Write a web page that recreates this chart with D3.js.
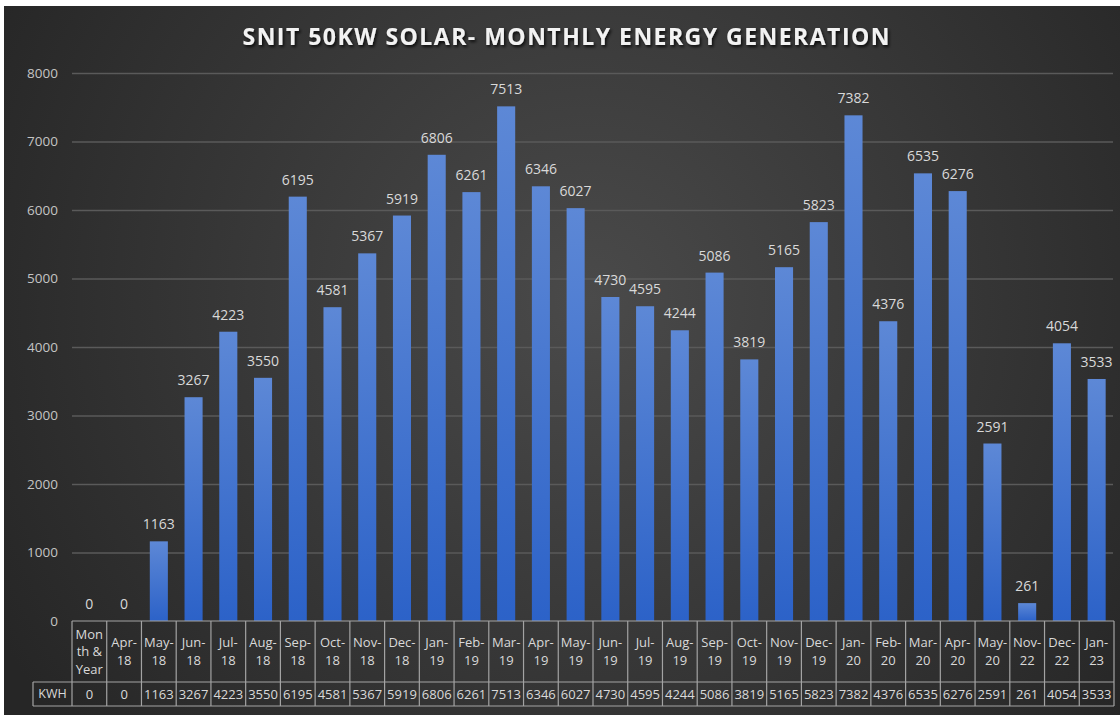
<!DOCTYPE html>
<html>
<head>
<meta charset="utf-8">
<script src="https://cdn.jsdelivr.net/npm/d3@7"></script>
<style>
  body { margin: 0; background: #fff; }
  svg { display: block; font-family: "Open Sans", sans-serif; }
</style>
</head>
<body>
<div id="chart"></div>
<script>
// data
const categories = ["Month & Year", "Apr-18", "May-18", "Jun-18", "Jul-18", "Aug-18", "Sep-18", "Oct-18",
  "Nov-18", "Dec-18", "Jan-19", "Feb-19", "Mar-19", "Apr-19", "May-19", "Jun-19", "Jul-19", "Aug-19",
  "Sep-19", "Oct-19", "Nov-19", "Dec-19", "Jan-20", "Feb-20", "Mar-20", "Apr-20", "May-20", "Nov-22",
  "Dec-22", "Jan-23"];
const kwh = [0, 0, 1163, 3267, 4223, 3550, 6195, 4581, 5367, 5919, 6806, 6261, 7513, 6346, 6027, 4730,
  4595, 4244, 5086, 3819, 5165, 5823, 7382, 4376, 6535, 6276, 2591, 261, 4054, 3533];
const yTicks = [0, 1000, 2000, 3000, 4000, 5000, 6000, 7000, 8000];
const seriesName = "KWH";
const chartTitle = "SNIT 50KW SOLAR- MONTHLY ENERGY GENERATION";

const width = 1120, height = 715;
const plotLeft = 72, plotRight = 1114, plotTop = 73, plotBottom = 621;
const headerBottom = 682, tableBottom = 706, kwhLeft = 33;

const svg = d3.select("#chart").append("svg")
  .attr("width", width)
  .attr("height", height);

const defs = svg.append("defs");

const bg = defs.append("radialGradient")
  .attr("id", "bg")
  .attr("gradientUnits", "userSpaceOnUse")
  .attr("cx", 590).attr("cy", 300).attr("r", 680);
bg.append("stop").attr("offset", "0%").attr("stop-color", "#4a4a4a");
bg.append("stop").attr("offset", "100%").attr("stop-color", "#262626");

const barGrad = defs.append("linearGradient")
  .attr("id", "barGrad")
  .attr("x1", 0).attr("y1", 0).attr("x2", 0).attr("y2", 1);
barGrad.append("stop").attr("offset", "0%").attr("stop-color", "#5d88d6");
barGrad.append("stop").attr("offset", "100%").attr("stop-color", "#2c62c8");

const shadow = defs.append("filter").attr("id", "shadow")
  .attr("x", "-5%").attr("y", "-30%").attr("width", "110%").attr("height", "160%");
shadow.append("feDropShadow")
  .attr("dx", 1.5).attr("dy", 2).attr("stdDeviation", 1.5)
  .attr("flood-color", "#000").attr("flood-opacity", 0.8);

// background
svg.append("rect")
  .attr("x", 4).attr("y", 6)
  .attr("width", width - 4).attr("height", height - 6)
  .attr("fill", "url(#bg)");

// title
svg.append("text")
  .attr("x", 566).attr("y", 45)
  .attr("text-anchor", "middle")
  .attr("fill", "#f2f2f2")
  .attr("font-size", 23)
  .attr("font-weight", "bold")
  .attr("textLength", 647)
  .attr("lengthAdjust", "spacing")
  .attr("filter", "url(#shadow)")
  .text(chartTitle);

// scales
let x = d3.scaleBand()
  .domain(categories)
  .range([plotLeft, plotRight])
  .paddingInner(0.48)
  .paddingOuter(0.24);

let y = d3.scaleLinear()
  .domain([0, 8000])
  .range([plotBottom, plotTop]);

let yAxis = d3.axisLeft(y)
  .tickValues(yTicks)
  .tickSize(-(plotRight - 1 - plotLeft))
  .tickPadding(14)
  .tickFormat(d => d);

let gy = svg.append("g")
  .attr("transform", `translate(${plotLeft}, 0)`)
  .call(yAxis);

gy.select(".domain").remove();
gy.selectAll(".tick line")
  .attr("stroke", "#5a5a5a")
  .attr("stroke-width", 1.3)
  .attr("display", d => d === 0 ? "none" : null);
gy.selectAll(".tick text")
  .attr("fill", "#c4c4c4")
  .attr("font-size", 13.5)
  .attr("font-family", "Open Sans, sans-serif")
  .attr("dy", "0.32em");

// bars
svg.selectAll("rect.bar")
  .data(kwh)
  .enter()
  .append("rect")
  .attr("class", "bar")
  .attr("x", (d, i) => x(categories[i]))
  .attr("width", x.bandwidth())
  .attr("y", d => y(d))
  .attr("height", d => y(0) - y(d))
  .attr("fill", "url(#barGrad)");

svg.selectAll("text.valueLabel")
  .data(kwh)
  .enter()
  .append("text")
  .attr("class", "valueLabel")
  .attr("x", (d, i) => x(categories[i]) + x.bandwidth() / 2)
  .attr("y", d => y(d) - 12)
  .attr("text-anchor", "middle")
  .attr("fill", "#d9d9d9")
  .attr("font-size", 14)
  .text(d => d);

// data table
const step = x.step();
const colLeft = i => plotLeft + i * step;
const lineColor = "#a3a3a3";
const table = svg.append("g");

// horizontal lines
table.append("line").attr("x1", plotLeft).attr("x2", plotRight).attr("y1", plotBottom).attr("y2", plotBottom);
table.append("line").attr("x1", kwhLeft).attr("x2", plotRight).attr("y1", headerBottom).attr("y2", headerBottom);
table.append("line").attr("x1", kwhLeft).attr("x2", plotRight).attr("y1", tableBottom).attr("y2", tableBottom);
// vertical lines
table.append("line").attr("x1", kwhLeft).attr("x2", kwhLeft).attr("y1", headerBottom).attr("y2", tableBottom);
table.selectAll("line.col")
  .data(d3.range(categories.length + 1))
  .enter()
  .append("line")
  .attr("class", "col")
  .attr("x1", i => colLeft(i)).attr("x2", i => colLeft(i))
  .attr("y1", plotBottom).attr("y2", tableBottom);
table.selectAll("line")
  .attr("stroke", lineColor)
  .attr("stroke-width", 1.2);

// wrap a category name into the cell width, like the spreadsheet does
const ctx = document.createElement("canvas").getContext("2d");
ctx.font = "13px 'Open Sans'";
function wrapLabel(label, maxW) {
  let parts = label.includes("-") ? label.split(/(?<=-)/) : label.split(" ");
  let lines = [], cur = "";
  parts.forEach(p => {
    let sep = label.includes("-") ? "" : " ";
    let trial = cur ? cur + sep + p : p;
    if (ctx.measureText(trial).width <= maxW) { cur = trial; return; }
    if (cur) { lines.push(cur); cur = ""; }
    // break a long word by characters
    let w = p;
    while (ctx.measureText(w).width > maxW) {
      let k = w.length;
      while (k > 1 && ctx.measureText(w.slice(0, k)).width > maxW) k--;
      lines.push(w.slice(0, k));
      w = w.slice(k);
    }
    cur = w;
  });
  if (cur) lines.push(cur);
  return lines;
}

const lineH = 17.5;
const headerMid = (plotBottom + headerBottom) / 2;
categories.forEach((c, i) => {
  const lines = wrapLabel(c, step - 4);
  const t = table.append("text")
    .attr("x", colLeft(i) + step / 2)
    .attr("text-anchor", "middle")
    .attr("fill", "#d9d9d9")
    .attr("font-size", 13);
  lines.forEach((l, j) => {
    t.append("tspan")
      .attr("x", colLeft(i) + step / 2)
      .attr("y", headerMid + (j - (lines.length - 1) / 2) * lineH)
      .attr("dy", "0.35em")
      .text(l);
  });
});

const kwhMid = (headerBottom + tableBottom) / 2;
table.append("text")
  .attr("x", (kwhLeft + plotLeft) / 2)
  .attr("y", kwhMid)
  .attr("dy", "0.35em")
  .attr("text-anchor", "middle")
  .attr("fill", "#d9d9d9")
  .attr("font-size", 12.5)
  .text(seriesName);

table.selectAll("text.kwh")
  .data(kwh)
  .enter()
  .append("text")
  .attr("class", "kwh")
  .attr("x", (d, i) => colLeft(i) + step / 2)
  .attr("y", kwhMid)
  .attr("dy", "0.35em")
  .attr("text-anchor", "middle")
  .attr("fill", "#d9d9d9")
  .attr("font-size", 13)
  .text(d => d);
</script>
</body>
</html>
